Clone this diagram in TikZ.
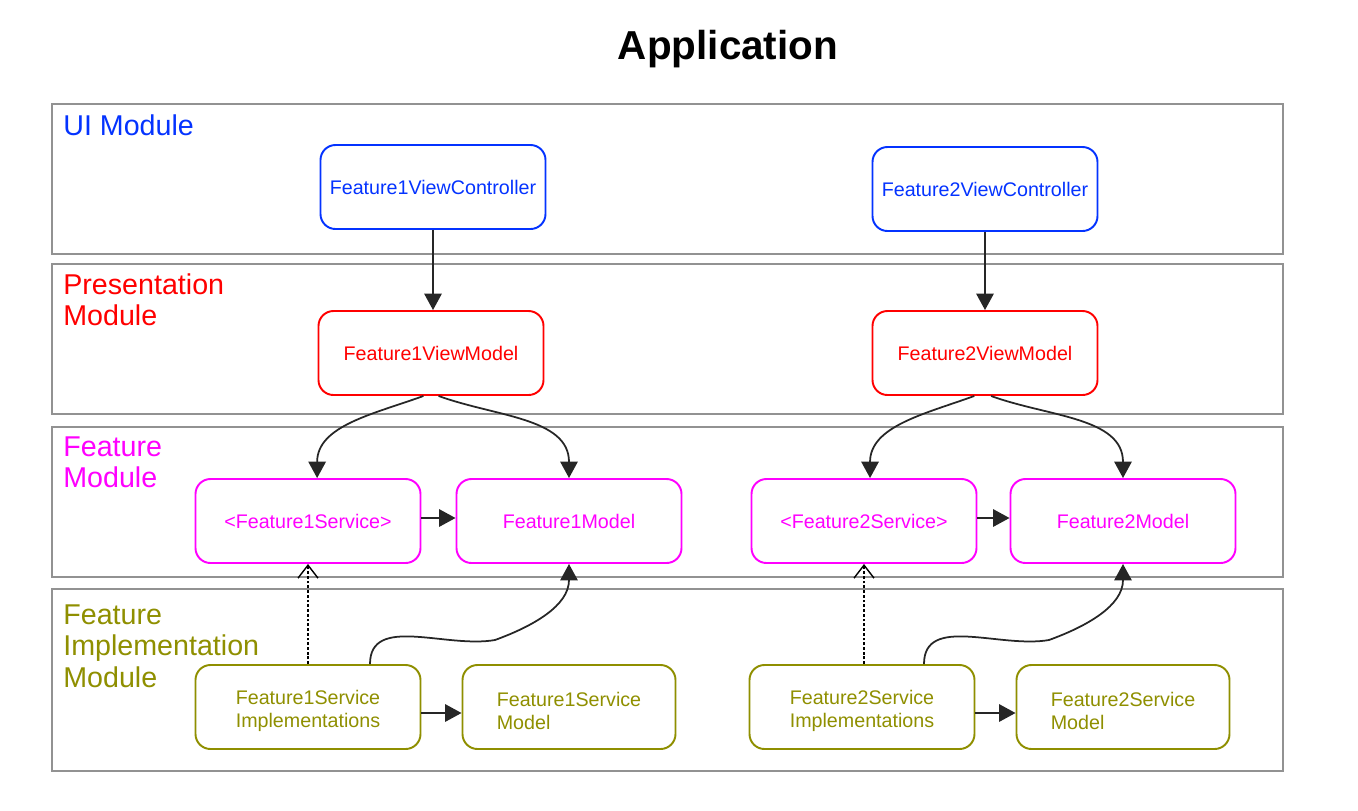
\documentclass[tikz,border=0pt]{standalone}
\usepackage{fontspec}
\setmainfont{Liberation Sans}
\usetikzlibrary{arrows.meta,calc}
\definecolor{UIClr}{HTML}{0433FF}
\definecolor{PresClr}{HTML}{FF0000}
\definecolor{FeatClr}{HTML}{FF00FF}
\definecolor{ImplClr}{HTML}{8F8F00}
\definecolor{FrameClr}{HTML}{929292}
\definecolor{LinkClr}{HTML}{262626}

\tikzset{
  frame/.style={draw=FrameClr,line width=1.1pt},
  layer/.style={anchor=north west,inner sep=0pt,align=left,font=\fontsize{16.3}{18.1}\selectfont},
  box/.style={rounded corners=3mm,line width=1.1pt,minimum width=45mm,minimum height=16.8mm,
    inner sep=0pt,align=left,font=\fontsize{11.2}{13.6}\selectfont},
  ui/.style={box,draw=UIClr,text=UIClr},
  pres/.style={box,draw=PresClr,text=PresClr},
  feat/.style={box,draw=FeatClr,text=FeatClr},
  impl/.style={box,draw=ImplClr,text=ImplClr,text height=26.2pt},
  link/.style={draw=LinkClr,line width=1pt,-{Triangle[length=3.3mm,width=3.5mm]}},
  dep/.style={draw=black,line width=0.8pt,dash pattern=on 1.6pt off 1.1pt,
    -{Straight Barb[length=2.6mm,width=4mm,line width=0.8pt]}}
}

\begin{document}
\begin{tikzpicture}[x=0.2mm,y=0.2mm]
\useasboundingbox (0,0) rectangle (1358,-810);

\node[font=\fontsize{23}{27}\selectfont\bfseries] (title) at (728,-49) {Application};

\draw[frame] (52,-104) rectangle (1283,-254);
\draw[frame] (52,-264) rectangle (1283,-414);
\draw[frame] (52,-427) rectangle (1283,-577);
\draw[frame] (52,-589) rectangle (1283,-771);

\node[layer,text=UIClr] (uilbl) at (63,-114) {UI Module};
\node[layer,text=PresClr] (preslbl) at (63,-273) {Presentation\\Module};
\node[layer,text=FeatClr] (featlbl) at (63,-436) {Feature\\Module};
\node[layer,text=ImplClr] (impllbl) at (63,-604) {Feature\\Implementation\\Module};

\node[ui] (f1vc) at (433,-187) {Feature1ViewController};
\node[ui] (f2vc) at (985,-189) {Feature2ViewController};

\node[pres] (f1vm) at (431,-353) {Feature1ViewModel};
\node[pres] (f2vm) at (985,-353) {Feature2ViewModel};

\node[feat] (f1svc) at (308,-521) {<Feature1Service>};
\node[feat] (f1model) at (569,-521) {Feature1Model};
\node[feat] (f2svc) at (864,-521) {<Feature2Service>};
\node[feat] (f2model) at (1123,-521) {Feature2Model};

\node[impl] (f1simpl) at (308,-707) {Feature1Service\\Implementations};
\node[impl,minimum width=42.6mm] (f1smodel) at (569,-707) {Feature1Service\\Model};
\node[impl] (f2simpl) at (862,-707) {Feature2Service\\Implementations};
\node[impl,minimum width=42.6mm] (f2smodel) at (1123,-707) {Feature2Service\\Model};

\coordinate (f1bend) at (495,-640);
\coordinate (f2bend) at (1049,-640);

\draw[link] (f1vc.south) -- (f1vc.south |- f1vm.north);
\draw[link] (f2vc.south) -- (f2vm.north);

\draw[link] (f1vm.260) to[out=200,in=90] (f1svc.78);
\draw[link] (f1vm.280) to[out=-20,in=90] (f1model.north);
\draw[link] (f2vm.256) to[out=200,in=90] (f2svc.82);
\draw[link] (f2vm.278) to[out=-20,in=90] (f2model.north);

\draw[link] ([yshift=0.6mm]f1svc.east) -- ([yshift=0.6mm]f1model.west);
\draw[link] ([yshift=0.6mm]f2svc.east) -- ([yshift=0.6mm]f2model.west);

\draw[dep] (f1svc.south |- f1simpl.north) -- (f1svc.south);
\draw[dep] (f2svc.south |- f2simpl.north) -- (f2svc.south);

\draw[link] ([xshift=12.4mm]f1simpl.north) to[out=90,in=190] (f1bend) to[out=20,in=-90] (f1model.south);
\draw[link] ([xshift=12.4mm]f2simpl.north) to[out=90,in=190] (f2bend) to[out=20,in=-90] (f2model.south);

\draw[link] ([yshift=-1.2mm]f1simpl.east) -- ([yshift=-1.2mm]f1smodel.west);
\draw[link] ([yshift=-1.2mm]f2simpl.east) -- ([yshift=-1.2mm]f2smodel.west);

\end{tikzpicture}
\end{document}
